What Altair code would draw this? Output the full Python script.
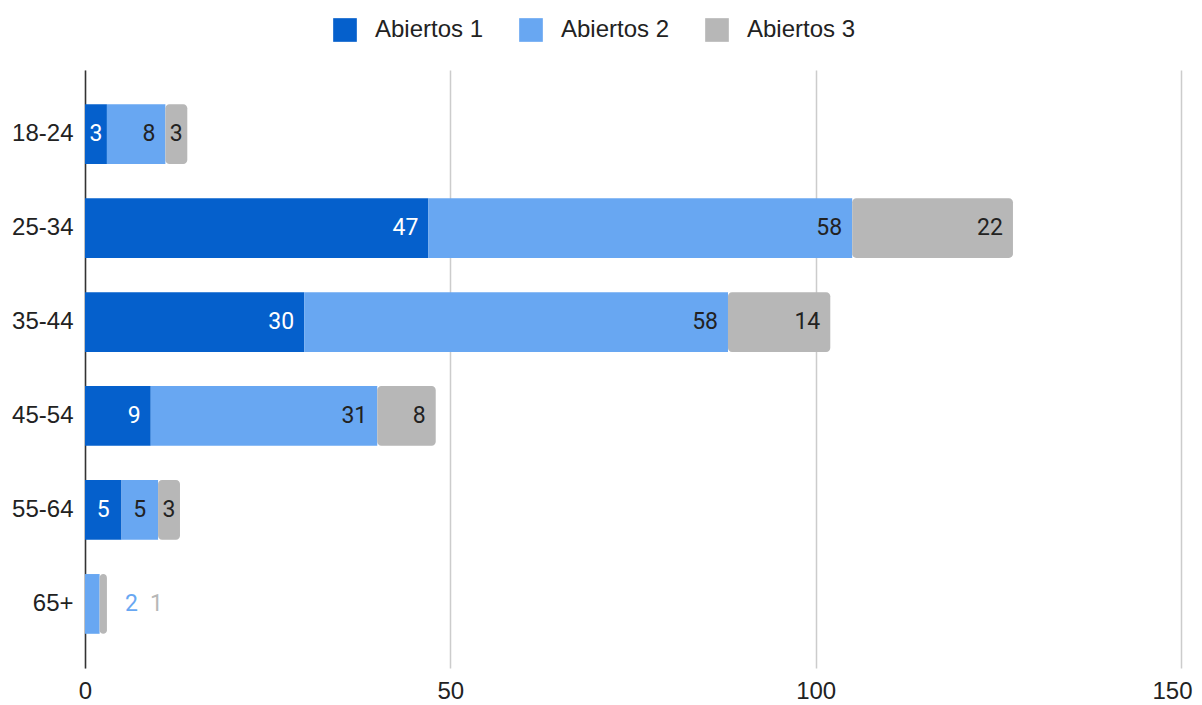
import altair as alt
import pandas as pd

groups = ["18-24", "25-34", "35-44", "45-54", "55-64", "65+"]
series = ["Abiertos 1", "Abiertos 2", "Abiertos 3"]
abiertos1 = [3, 47, 30, 9, 5, 0]
abiertos2 = [8, 58, 58, 31, 5, 2]
abiertos3 = [3, 22, 14, 8, 3, 1]
x_ticks = [0, 50, 100, 150]

colors = ["#0560cc", "#68a7f2", "#b7b7b7"]
AX_FONT = "Liberation Sans"
LB_FONT = "Roboto"
FS = 24
LFS = 23

rows = []
for i, g in enumerate(groups):
    for s, vals in zip(series, [abiertos1, abiertos2, abiertos3]):
        rows.append({"grupo": g, "serie": s, "valor": vals[i]})
df = pd.DataFrame(rows)

base = alt.Chart(df).transform_stack(
    stack="valor", groupby=["grupo"], as_=["x0", "x1"],
    sort=[alt.SortField("serie", order="ascending")]
).transform_joinaggregate(total="sum(valor)", groupby=["grupo"]
).transform_calculate(xm="(datum.x0 + datum.x1) / 2")

y_enc = alt.Y("grupo:N", sort=groups, title=None,
              scale=alt.Scale(paddingInner=0.364, paddingOuter=0.364),
              axis=alt.Axis(labelFont=AX_FONT, labelFontSize=FS, labelColor="#222222",
                            labelPadding=12, ticks=False, domain=True,
                            domainColor="#333333", domainWidth=1.5, grid=False))
x_scale = alt.Scale(domain=[0, 150], nice=False)
x_enc = alt.X("x0:Q", scale=x_scale, title=None,
              axis=alt.Axis(values=x_ticks, labelFont=AX_FONT, labelFontSize=FS,
                            labelColor="#222222", labelPadding=11, ticks=False,
                            labelFlush=False,
                            labelOffset=alt.ExprRef(expr="datum.value == 150 ? -9 : 0"),
                            domain=False, grid=True, gridColor="#cccccc",
                            gridWidth=1.5))
color_enc = alt.Color("serie:N", scale=alt.Scale(domain=series, range=colors),
                      title=None,
                      legend=alt.Legend(orient="none", legendX=248, legendY=-52,
                                        direction="horizontal", symbolType="square",
                                        symbolSize=560, symbolStrokeWidth=0,
                                        labelFont=AX_FONT, labelFontSize=FS,
                                        labelColor="#222222", labelOffset=18,
                                        columnPadding=35))

bars_main = base.transform_filter(alt.datum.serie != "Abiertos 3").mark_bar().encode(
    x=x_enc, x2="x1:Q", y=y_enc, color=color_enc)
bars_end = base.transform_filter(alt.datum.serie == "Abiertos 3").mark_bar(
    cornerRadiusEnd=4).encode(x=x_enc, x2="x1:Q", y=y_enc, color=color_enc)

txt_color = alt.condition(alt.datum.serie == "Abiertos 1",
                          alt.value("#ffffff"), alt.value("#222222"))

wide = base.transform_filter(alt.datum.valor >= 8).mark_text(
    align="right", baseline="middle", dx=-10, font=LB_FONT, fontSize=LFS).encode(
    x=alt.X("x1:Q", scale=x_scale), y=alt.Y("grupo:N", sort=groups),
    text="valor:Q", color=txt_color)

narrow = base.transform_filter((alt.datum.valor >= 3) & (alt.datum.valor < 8)).mark_text(
    align="center", baseline="middle", font=LB_FONT, fontSize=LFS).encode(
    x=alt.X("xm:Q", scale=x_scale), y=alt.Y("grupo:N", sort=groups),
    text="valor:Q", color=txt_color)

out2 = base.transform_filter((alt.datum.valor > 0) & (alt.datum.valor < 3) &
                             (alt.datum.serie == "Abiertos 2")).mark_text(
    align="left", baseline="middle", dx=18, font=LB_FONT, fontSize=LFS,
    color=colors[1]).encode(
    x=alt.X("total:Q", scale=x_scale), y=alt.Y("grupo:N", sort=groups),
    text="valor:Q")

out3 = base.transform_filter((alt.datum.valor > 0) & (alt.datum.valor < 3) &
                             (alt.datum.serie == "Abiertos 3")).mark_text(
    align="left", baseline="middle", dx=43, font=LB_FONT, fontSize=LFS,
    color=colors[2]).encode(
    x=alt.X("total:Q", scale=x_scale), y=alt.Y("grupo:N", sort=groups),
    text="valor:Q")

chart = alt.layer(bars_main, bars_end, wide, narrow, out2, out3).properties(
    width=1096, height=598,
    autosize=alt.AutoSizeParams(type="none"),
    padding={"left": 77, "top": 62, "right": 13, "bottom": 35},
).configure_view(stroke=None)

chart.save("out.html", embed_options={"renderer": "svg", "actions": False})
